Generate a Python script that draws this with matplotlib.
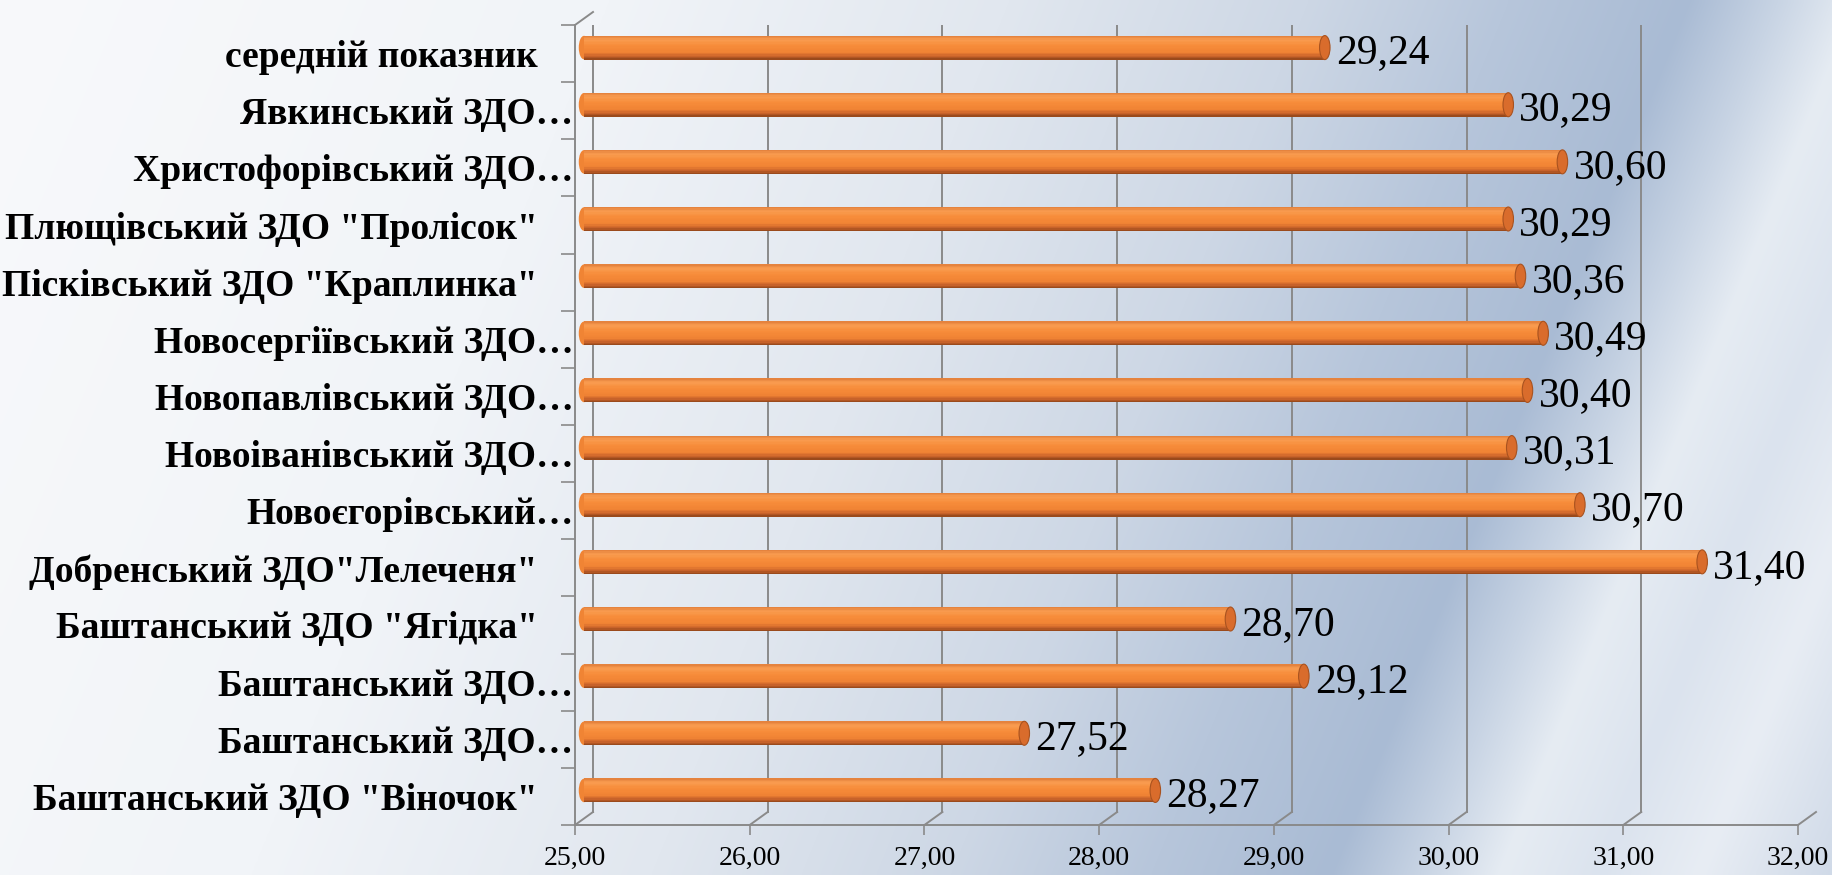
import matplotlib
matplotlib.use('Agg')
import matplotlib.pyplot as plt
import matplotlib.transforms as mtransforms
from matplotlib.patches import Ellipse
from matplotlib.lines import Line2D
from matplotlib.colors import LinearSegmentedColormap, to_rgb
import numpy as np

# data, bottom to top as in the chart
categories = [
    'Баштанський ЗДО "Віночок"',
    'Баштанський ЗДО…',
    'Баштанський ЗДО…',
    'Баштанський ЗДО "Ягідка"',
    'Добренський ЗДО"Лелеченя"',
    'Новоєгорівський…',
    'Новоіванівський ЗДО…',
    'Новопавлівський ЗДО…',
    'Новосергіївський ЗДО…',
    'Пісківський ЗДО "Краплинка"',
    'Плющівський ЗДО "Пролісок"',
    'Христофорівський ЗДО…',
    'Явкинський ЗДО…',
    'середній показник',
]
values = [28.27, 27.52, 29.12, 28.70, 31.40, 30.70, 30.31, 30.40, 30.49,
          30.36, 30.29, 30.60, 30.29, 29.24]
xticks = [25, 26, 27, 28, 29, 30, 31, 32]

W, H, DPI = 1833, 875, 100
fig = plt.figure(figsize=(W / DPI, H / DPI), dpi=DPI)

# background gradient (sheared so the light streak runs diagonally)
bg = fig.add_axes([0, 0, 1, 1], zorder=-10)
stops_u = [-360, 250, 650, 950, 1150, 1330, 1420, 1500, 1600, 1700, 1833]
stops_c = ['#f8f9fb', '#f1f4f8', '#e1e7ef', '#cdd7e5', '#b7c6db', '#a9bbd4',
           '#c8d4e4', '#e6ecf3', '#dbe3ee', '#e8edf4', '#d0dae8']
gx, gy = np.meshgrid(np.arange(0, W, 4), np.arange(0, H, 4))
u = gx - (H - gy) * 0.41
rgb = np.array([to_rgb(c) for c in stops_c])
img = np.stack([np.interp(u, stops_u, rgb[:, k]) for k in range(3)], axis=-1)
bg.imshow(img, aspect='auto', extent=[0, 1, 0, 1], interpolation='bilinear')
bg.axis('off')

ax = fig.add_axes([575 / W, 50 / H, 1223 / W, 800 / H])
ax.patch.set_alpha(0)
ax.set_xlim(25, 32)
ax.set_ylim(-0.5, 13.5)

grid_col = '#8a8a8a'
back = mtransforms.ScaledTranslation(18 / DPI, 13 / DPI, fig.dpi_scale_trans)
mid = mtransforms.ScaledTranslation(9 / DPI, 6 / DPI, fig.dpi_scale_trans)

# back wall gridlines + floor slants
for v in xticks:
    ax.plot([v, v], [0, 1], color=grid_col, lw=1.4,
            transform=ax.get_xaxis_transform() + back, zorder=1)
    x0, y0 = ax.get_xaxis_transform().transform((v, 0))
    x1, y1 = (ax.get_xaxis_transform() + back).transform((v, 0))
    fig.add_artist(Line2D([x0, x1], [y0, y1], color=grid_col, lw=1.4,
                          transform=mtransforms.IdentityTransform()))
# top left slant of the side wall
x0, y0 = ax.get_xaxis_transform().transform((25, 1))
x1, y1 = (ax.get_xaxis_transform() + back).transform((25, 1))
fig.add_artist(Line2D([x0, x1], [y0, y1], color=grid_col, lw=1.4,
                      transform=mtransforms.IdentityTransform()))

# cylinder bars drawn as stacked strips
cyl = LinearSegmentedColormap.from_list('cyl', [
    (0.0, '#9a4a1c'), (0.12, '#c8622a'), (0.3, '#f08334'),
    (0.6, '#f78c3a'), (0.85, '#f99c50'), (1.0, '#e5833e')])
bar_h = 0.42
nstrip = 18
y = np.arange(len(values))
vals = np.array(values)
tr_mid = ax.transData + mid
for k in range(nstrip):
    off = -bar_h / 2 + (k + 0.5) * bar_h / nstrip
    ax.barh(y + off, vals - 25, left=25, height=bar_h / nstrip * 1.05,
            color=cyl(k / (nstrip - 1)), linewidth=0, transform=tr_mid, zorder=3)
for yi, v in zip(y, vals):
    ax.add_patch(Ellipse((25, yi), 0.06, bar_h * 0.98, facecolor='#f08434',
                         edgecolor='none', transform=tr_mid, zorder=2))
    ax.add_patch(Ellipse((v, yi), 0.06, bar_h, facecolor='#d96c2c',
                         edgecolor='#a8521f', lw=0.8, transform=tr_mid, zorder=4))
    ax.annotate(f'{v:.2f}'.replace('.', ','), (v, yi), xycoords=tr_mid,
                xytext=(8, -4), textcoords='offset points', ha='left', va='center',
                fontsize=30, family='Liberation Serif', color='black', zorder=5)

# axes styling
for s in ['top', 'right']:
    ax.spines[s].set_visible(False)
for s in ['left', 'bottom']:
    ax.spines[s].set_color(grid_col)
    ax.spines[s].set_linewidth(1.4)

ax.set_xticks(xticks)
ax.set_xticklabels([f'{t:.2f}'.replace('.', ',') for t in xticks],
                   fontsize=20, family='Liberation Serif')
ax.tick_params(axis='x', length=7, width=1.2, color=grid_col, pad=8)

ax.set_yticks(y)
ax.set_yticklabels(categories, fontsize=27, family='Liberation Serif',
                   fontweight='bold')
ax.set_yticks(np.arange(-0.5, 14, 1), minor=True)
ax.tick_params(axis='y', which='major', length=0, pad=1)
ax.tick_params(axis='y', which='minor', length=10, width=1.2, color=grid_col)

shift = mtransforms.ScaledTranslation(-36 / DPI, 0, fig.dpi_scale_trans)
for lbl in ax.get_yticklabels():
    if not lbl.get_text().endswith('…'):
        lbl.set_transform(lbl.get_transform() + shift)

fig.savefig('out.png', dpi=DPI)
